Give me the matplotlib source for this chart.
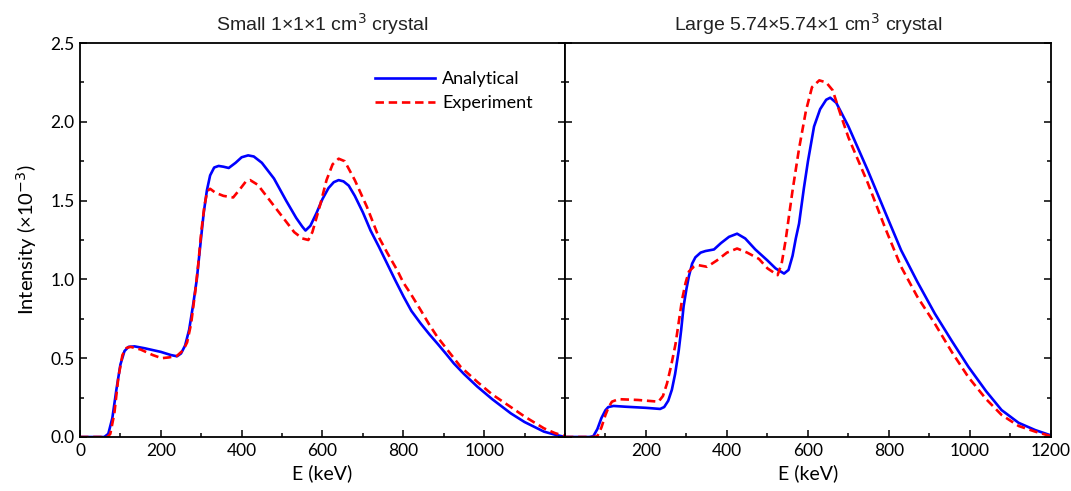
import numpy as np
import matplotlib
matplotlib.use("Agg")
import matplotlib.pyplot as plt
from matplotlib.ticker import MultipleLocator

plt.rcParams['font.family'] = ['Lato', 'DejaVu Sans']

# small crystal
E_small_an = [0, 40, 60, 70, 80, 90, 100, 110, 120, 135, 160, 200, 225, 240, 250, 260, 270, 280,
              289, 297, 306, 314, 322, 332, 343, 355, 368, 385, 400, 416, 430, 450, 480, 510,
              535, 550, 558, 570, 585, 600, 615, 628, 640, 652, 665, 680, 700, 719, 740, 760, 780,
              801, 820, 843, 865, 884, 905, 925, 950, 983, 1020, 1066, 1100, 1148, 1175, 1200]
I_small_an = [0.0, 0.0, 0.0, 0.02, 0.12, 0.30, 0.46, 0.545, 0.572, 0.575, 0.563, 0.54, 0.52, 0.512,
              0.53, 0.58, 0.68, 0.84, 1.0, 1.2, 1.42, 1.565, 1.66, 1.71, 1.72, 1.715, 1.707, 1.74,
              1.775, 1.787, 1.78, 1.74, 1.64, 1.50, 1.39, 1.335, 1.31, 1.34, 1.42, 1.51, 1.58, 1.617,
              1.63, 1.622, 1.595, 1.53, 1.425, 1.31, 1.205, 1.10, 0.995, 0.889, 0.80, 0.72, 0.65,
              0.594, 0.53, 0.467, 0.40, 0.32, 0.24, 0.15, 0.095, 0.034, 0.015, 0.0]

E_small_ex = [0, 50, 68, 75, 85, 95, 105, 115, 125, 150, 180, 202, 220, 240, 255, 265, 275, 285,
              292, 300, 308, 315, 322, 335, 355, 379, 395, 410, 421, 440, 470, 500, 530, 550, 565,
              575, 585, 595, 610, 625, 640, 655, 680, 710, 739, 760, 785, 800, 818, 843, 865, 884,
              910, 942, 983, 1020, 1066, 1100, 1148, 1175, 1200]
I_small_ex = [0.0, 0.0, 0.0, 0.02, 0.15, 0.38, 0.52, 0.565, 0.572, 0.555, 0.52, 0.50, 0.505, 0.515,
              0.55, 0.60, 0.72, 0.92, 1.08, 1.30, 1.47, 1.56, 1.575, 1.55, 1.53, 1.52, 1.57, 1.62,
              1.63, 1.60, 1.50, 1.40, 1.30, 1.26, 1.25, 1.30, 1.39, 1.48, 1.63, 1.73, 1.766, 1.75,
              1.63, 1.46, 1.27, 1.17, 1.058, 0.98, 0.91, 0.805, 0.71, 0.636, 0.55, 0.445, 0.35,
              0.27, 0.19, 0.13, 0.055, 0.025, 0.005]

# large crystal
E_large_an = [0, 60, 70, 80, 90, 100, 107, 120, 150, 200, 235, 245, 255, 264, 272, 281, 287, 293,
              300, 306, 314, 322, 335, 347, 368, 385, 405, 425, 445, 470, 500, 520, 541, 552, 562,
              570, 578, 590, 600, 615, 630, 645, 655, 670, 700, 748, 790, 830, 870, 913, 955, 996,
              1040, 1078, 1120, 1161, 1200]
I_large_an = [0.0, 0.0, 0.005, 0.05, 0.12, 0.17, 0.19, 0.197, 0.192, 0.185, 0.178, 0.19, 0.23, 0.30,
              0.40, 0.55, 0.68, 0.83, 0.94, 1.02, 1.10, 1.14, 1.17, 1.18, 1.19, 1.23, 1.27, 1.29,
              1.26, 1.19, 1.12, 1.07, 1.037, 1.06, 1.15, 1.26, 1.354, 1.58, 1.75, 1.97, 2.08, 2.14,
              2.153, 2.12, 1.97, 1.69, 1.43, 1.185, 0.985, 0.784, 0.61, 0.446, 0.29, 0.171, 0.09,
              0.044, 0.01]

E_large_ex = [0, 70, 80, 90, 100, 108, 116, 132, 180, 231, 242, 252, 262, 273, 281, 289, 298, 306,
              318, 330, 351, 375, 400, 425, 450, 479, 500, 525, 535, 545, 553, 562, 578, 595, 610,
              628, 645, 661, 680, 700, 748, 790, 830, 870, 913, 955, 996, 1040, 1078, 1120, 1161, 1200]
I_large_ex = [0.0, 0.0, 0.005, 0.06, 0.14, 0.19, 0.224, 0.24, 0.235, 0.224, 0.26, 0.34, 0.45, 0.59,
              0.73, 0.87, 0.98, 1.05, 1.08, 1.09, 1.08, 1.12, 1.17, 1.196, 1.17, 1.13, 1.07, 1.027,
              1.10, 1.25, 1.40, 1.565, 1.83, 2.07, 2.22, 2.263, 2.25, 2.2, 2.05, 1.90, 1.61, 1.33,
              1.08, 0.89, 0.72, 0.54, 0.38, 0.24, 0.14, 0.07, 0.034, 0.005]

titles = ['Small 1×1×1 cm$^3$ crystal', 'Large 5.74×5.74×1 cm$^3$ crystal']

fig = plt.figure(figsize=(10.71, 4.91), dpi=100)
ax1 = fig.add_axes([0.0747, 0.110, 0.4528, 0.8024])
ax2 = fig.add_axes([0.5275, 0.110, 0.4538, 0.8024])

data = [(E_small_an, I_small_an, E_small_ex, I_small_ex),
        (E_large_an, I_large_an, E_large_ex, I_large_ex)]

for ax, (ea, ia, ee, ie), t in zip([ax1, ax2], data, titles):
    ax.plot(ea, ia, color='#0000ff', lw=1.9, label='Analytical')
    ax.plot(ee, ie, color='#ff0000', lw=1.9, ls=(0, (3.2, 1.8)), label='Experiment')
    ax.set_xlim(0, 1200)
    ax.set_ylim(0, 2.5)
    ax.xaxis.set_major_locator(MultipleLocator(200))
    ax.xaxis.set_minor_locator(MultipleLocator(100))
    ax.yaxis.set_major_locator(MultipleLocator(0.5))
    ax.yaxis.set_minor_locator(MultipleLocator(0.25))
    ax.tick_params(which='both', direction='in', right=True, top=False, labelsize=12.5,
                   width=1.1, pad=4)
    ax.tick_params(which='major', length=5)
    ax.tick_params(which='minor', length=3)
    for s in ax.spines.values():
        s.set_linewidth(1.3)
    ax.set_title(t, family='Liberation Sans', fontsize=14, color='#222222', pad=9)
    ax.set_xlabel('E (keV)', fontsize=14, labelpad=4)

ax1.set_xticks([0, 200, 400, 600, 800, 1000])
ax1.yaxis.set_major_formatter(matplotlib.ticker.FormatStrFormatter('%.1f'))
ax1.set_ylabel('Intensity (×10$^{-3}$)', fontsize=14.5, labelpad=8)
ax2.set_xticks([200, 400, 600, 800, 1000, 1200])
ax2.tick_params(labelleft=False)

ax1.legend(loc='upper left', bbox_to_anchor=(0.575, 0.97), frameon=False, fontsize=13,
           handlelength=3.3, handletextpad=0.4, labelspacing=0.45)

fig.savefig('out.png', dpi=100)
